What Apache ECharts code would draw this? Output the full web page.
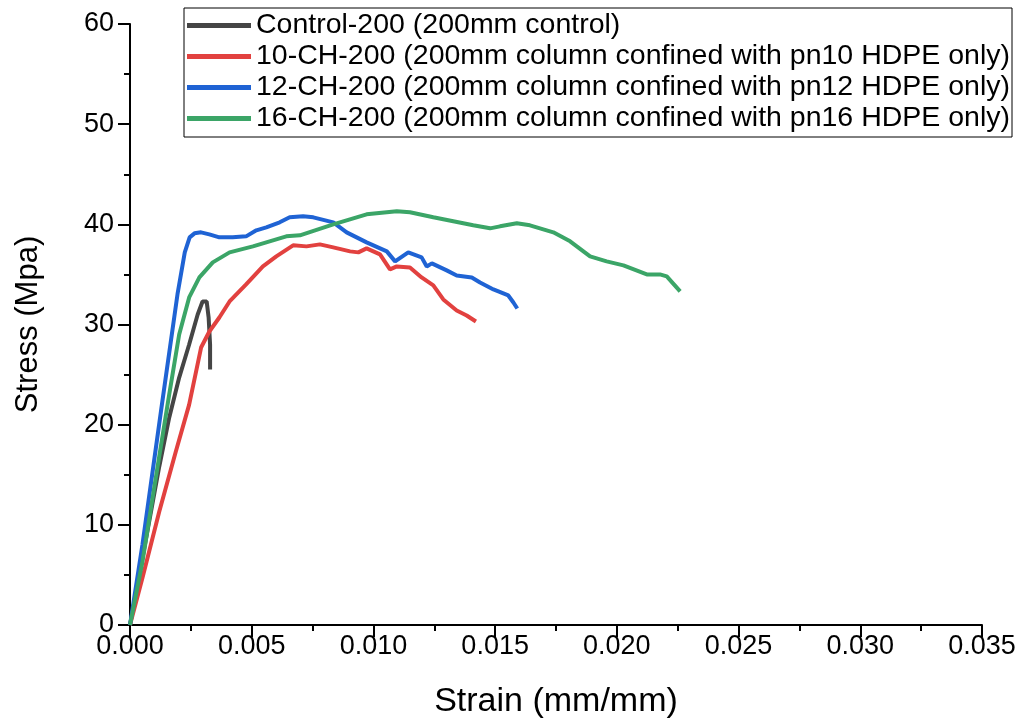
<!DOCTYPE html>
<html>
<head>
<meta charset="utf-8">
<script src="https://cdn.jsdelivr.net/npm/echarts@6/dist/echarts.min.js"></script>
<style>
html,body{margin:0;padding:0;background:#fff;}
#chart{width:1021px;height:724px;}
</style>
</head>
<body>
<div id="chart"></div>
<script>
const seriesNames = [
  'Control-200 (200mm control)',
  '10-CH-200 (200mm column confined with pn10 HDPE only)',
  '12-CH-200 (200mm column confined with pn12 HDPE only)',
  '16-CH-200 (200mm column confined with pn16 HDPE only)'
];
const xTicks = ['0.000','0.005','0.010','0.015','0.020','0.025','0.030','0.035'];
const yTicks = ['0','10','20','30','40','50','60'];

const control200 = [
  [0,0],[0.0004,5.2],[0.0008,10.5],[0.0012,15.8],[0.00161,20.7],[0.00202,24.7],
  [0.00243,28.0],[0.00278,31.0],[0.00298,32.3],[0.00315,32.3],[0.00323,30.7],
  [0.00329,28.0],[0.00329,25.5]
];
const ch10 = [
  [0,0],[0.00051,4.7],[0.0012,11.3],[0.00188,17.3],[0.00243,22.0],[0.00292,27.7],
  [0.00326,29.3],[0.00367,30.7],[0.00409,32.3],[0.00477,34.0],[0.00546,35.8],
  [0.00601,36.8],[0.0067,37.9],[0.00725,37.8],[0.0078,38.0],[0.00835,37.7],
  [0.00904,37.3],[0.00938,37.2],[0.00972,37.6],[0.01027,37.0],[0.01068,35.5],
  [0.01096,35.8],[0.0115,35.7],[0.01198,34.7],[0.01246,33.9],[0.01287,32.5],
  [0.01342,31.4],[0.01383,30.9],[0.01421,30.3]
];
const ch12 = [
  [0,0],[0.00051,8.0],[0.00127,21.3],[0.00195,33.0],[0.00225,37.2],[0.00245,38.7],
  [0.00265,39.1],[0.00292,39.2],[0.00326,39.0],[0.00367,38.7],[0.00422,38.7],[0.00477,38.8],
  [0.00519,39.4],[0.0056,39.7],[0.00615,40.2],[0.00656,40.7],[0.00711,40.8],
  [0.00753,40.7],[0.00835,40.2],[0.0089,39.2],[0.00972,38.2],[0.01055,37.3],
  [0.01089,36.3],[0.01143,37.2],[0.01198,36.7],[0.01219,35.8],[0.0124,36.1],
  [0.01301,35.4],[0.01342,34.9],[0.01404,34.7],[0.01438,34.2],[0.01493,33.5],
  [0.01554,32.9],[0.01575,32.2],[0.01591,31.6]
];
const ch16 = [
  [0,0],[0.00051,6.3],[0.00106,14.7],[0.00161,23.0],[0.00202,29.0],[0.00243,32.7],
  [0.00285,34.7],[0.0034,36.2],[0.00409,37.2],[0.00505,37.8],[0.00642,38.8],
  [0.00698,38.9],[0.00835,40.0],[0.00972,41.0],[0.01096,41.3],[0.0115,41.2],
  [0.01246,40.7],[0.01328,40.3],[0.0141,39.9],[0.01479,39.6],[0.0152,39.8],
  [0.01589,40.1],[0.01643,39.9],[0.01739,39.2],[0.01808,38.3],[0.0189,36.8],
  [0.01958,36.3],[0.02027,35.9],[0.02123,35.0],[0.02177,35.0],[0.02205,34.8],
  [0.0226,33.3]
];

const colors = ['#454545','#e2413f','#1f63d4','#3ba567'];
const font = "'Liberation Sans', Arial, sans-serif";

const chart = echarts.init(document.getElementById('chart'), null, {renderer:'canvas'});
const mk = (name, data, c) => ({
  name, type:'line', data, symbol:'none', smooth:false,
  lineStyle:{color:c, width:4}, itemStyle:{color:c}, z:2
});
chart.setOption({
  animation:false,
  backgroundColor:'#ffffff',
  grid:{left:130, right:39, top:24, bottom:97},
  legend:{
    orient:'vertical', left:184, top:8,
    data: seriesNames,
    icon:'rect',
    itemWidth:64, itemHeight:5, itemGap:2,
    padding:[3,2,4,3],
    borderColor:'#000', borderWidth:1,
    textStyle:{fontFamily:font, fontSize:28.5, color:'#000'}
  },
  xAxis:{
    type:'value', min:0, max:0.035, interval:0.005,
    name:'Strain (mm/mm)', nameLocation:'middle', nameGap:60,
    nameTextStyle:{fontFamily:font, fontSize:34, color:'#000'},
    axisLine:{show:true, onZero:false, lineStyle:{color:'#000', width:2}},
    axisTick:{show:true, length:12, lineStyle:{color:'#000', width:2}},
    minorTick:{show:true, splitNumber:2, length:6, lineStyle:{color:'#000', width:2}},
    splitLine:{show:false},
    axisLabel:{fontFamily:font, fontSize:27, color:'#000', margin:8,
      formatter:(v)=>xTicks[Math.round(v/0.005)]}
  },
  yAxis:{
    type:'value', min:0, max:60, interval:10,
    name:'Stress (Mpa)', nameLocation:'middle', nameGap:86,
    nameTextStyle:{fontFamily:font, fontSize:31, color:'#000'},
    axisLine:{show:true, lineStyle:{color:'#000', width:2}},
    axisTick:{show:true, length:12, lineStyle:{color:'#000', width:2}},
    minorTick:{show:true, splitNumber:2, length:6, lineStyle:{color:'#000', width:2}},
    splitLine:{show:false},
    axisLabel:{fontFamily:font, fontSize:27, color:'#000', margin:16,
      formatter:(v)=>yTicks[Math.round(v/10)]}
  },
  series:[
    mk(seriesNames[0], control200, colors[0]),
    mk(seriesNames[1], ch10, colors[1]),
    mk(seriesNames[2], ch12, colors[2]),
    mk(seriesNames[3], ch16, colors[3])
  ]
});
</script>
</body>
</html>
